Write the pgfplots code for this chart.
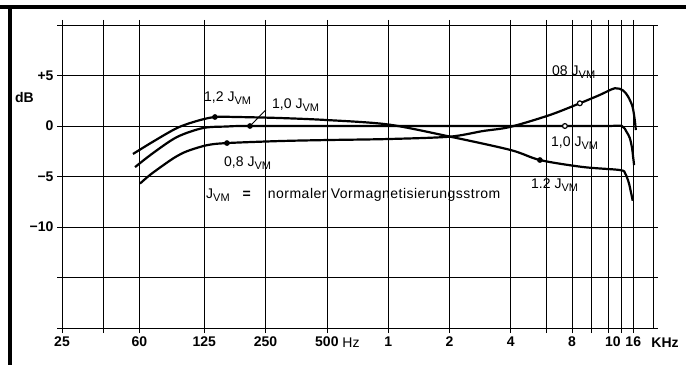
\documentclass[border=0pt]{standalone}
\usepackage{fontspec}
\setmainfont{Liberation Sans}
\usepackage{pgfplots}
\pgfplotsset{compat=1.18}
\newcommand{\JVM}{J\raisebox{-0.45ex}{\fontsize{11}{11}\selectfont VM}}
\newcommand{\lf}{\fontsize{14}{16}\selectfont}
\begin{document}
\begin{tikzpicture}[x=1pt,y=1pt]
\useasboundingbox (0,0) rectangle (686,367);
\draw[line width=3.5pt] (0,360) -- (686,360);
\draw[line width=3.5pt] (10,361.75) -- (10,2);
\begin{axis}[at={(62pt,39pt)}, anchor=south west, scale only axis,
  width=591pt, height=303pt,
  xmode=log, xmin=25, xmax=20000, ymin=-20, ymax=10,
  xtick={25,40,60,125,250,500,1000,2000,4000,6000,8000,10000,12000,14000,16000},
  xticklabels={25,,60,125,250,500,1,2,4,,8,,\hspace*{10pt}10,,16},
  ytick={-20,-15,-10,-5,0,5,10},
  yticklabels={,,−10,−5,0,+5,},
  grid=major, major grid style={black, line width=0.6pt},
  tick align=outside, major tick length=5pt,
  tick style={black, line width=0.6pt},
  minor tick num=0,
  axis line style={black, line width=0.8pt},
  ticklabel style={font=\fontsize{14}{16}\selectfont\bfseries},
  clip=false,
]
% 1,2 J_VM
\addplot[black, line width=2.2pt, smooth] coordinates {
(55.8,-2.77) (70,-1.55) (91.8,-0.20) (115,0.50) (141,0.89) (181,0.89) (294,0.79)
(500,0.59) (1000,0.15) (2000,-1.04) (4000,-2.38) (5565,-3.37) (9046,-4.06)
(13750,-4.36) (14600,-4.7) (15200,-5.6) (15600,-6.6) (15900,-7.4)};
% 1,0 J_VM
\addplot[black, line width=2.2pt, smooth] coordinates {
(57.1,-4.07) (70,-2.68) (91.8,-1.09) (123.2,-0.2) (161.5,-0.05) (209.5,0)
(1000,0) (4000,0) (8000,0) (12000,0) (14060,0) (14820,-0.57) (15380,-1.19)
(15780,-2.18) (15970,-3.05) (16150,-3.87)};
% 0,8 J_VM
\addplot[black, line width=2.2pt, smooth] coordinates {
(60.4,-5.7) (67.6,-4.85) (78.4,-3.9) (89.7,-3.1) (102.7,-2.5) (128.8,-1.9) (161.5,-1.69) (294,-1.49)
(500,-1.39) (1000,-1.29) (2000,-1.06) (2920,-0.50) (3960,-0.10) (6230,1.09)
(8744,2.25) (10970,3.08) (12990,3.74) (14270,3.51) (15090,2.91) (15860,1.92)
(16270,0.60) (16470,-0.40)};
% filled dots
\addplot[only marks, mark=*, mark size=2.6pt, black] coordinates {
(141,0.89) (209.5,0) (161.5,-1.69) (5565,-3.37)};
% open dots
\addplot[only marks, mark=*, mark size=2.4pt, black, fill=white, mark options={line width=1.2pt, fill=white}] coordinates {
(7385,0) (8744,2.25)};
% leader line
\draw[line width=0.9pt] (axis cs:209.5,0) -- (axis cs:251,1.6);
\end{axis}
\node[anchor=center, font=\fontsize{14}{16}\selectfont\bfseries] at (24.5,270) {dB};
\node[anchor=base, font=\fontsize{14}{16}\selectfont] at (351,19) {Hz};
\node[anchor=base, font=\fontsize{14}{16}\selectfont\bfseries] at (665,19) {KHz};
\node[anchor=west, inner sep=0pt, font=\lf] at (204,269) {1,2 \JVM};
\node[anchor=west, inner sep=0pt, font=\lf] at (272,262) {1,0 \JVM};
\node[anchor=west, inner sep=0pt, font=\lf] at (224,204) {0,8 \JVM};
\node[anchor=west, inner sep=0pt, font=\lf] at (552,295) {08 \JVM};
\node[anchor=west, inner sep=0pt, font=\lf] at (551,224) {1,0 \JVM};
\node[anchor=west, inner sep=0pt, font=\lf] at (531,182) {1.2 \JVM};
\node[anchor=west, inner sep=0pt, font=\lf] at (206,172) {\JVM\hspace{13pt}\textbf{=}\hspace{17pt}\addfontfeature{LetterSpace=3.5}normaler Vormagnetisierungsstrom};
\end{tikzpicture}
\end{document}
